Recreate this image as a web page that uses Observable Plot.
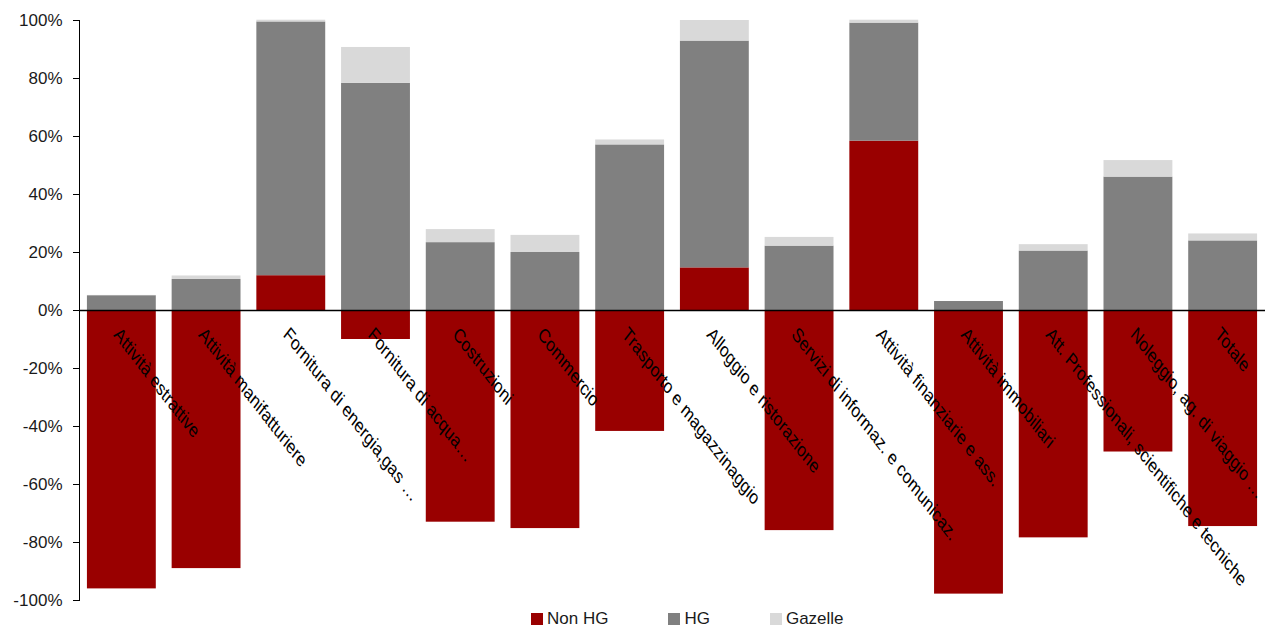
<!DOCTYPE html>
<html>
<head>
<meta charset="utf-8">
<script src="https://cdn.jsdelivr.net/npm/d3@7"></script>
<script src="https://cdn.jsdelivr.net/npm/@observablehq/plot@0.6"></script>
<style>
  html, body { margin: 0; padding: 0; background: #fff; }
  body { width: 1266px; height: 634px; overflow: hidden; font-family: "Liberation Sans", Arial, sans-serif; }
  #chart svg { display: block; }
  #legend { display: flex; align-items: center; gap: 60px; margin-left: 531px; height: 14px; font-size: 17px; color: #1a1a1a; }
  #legend .item { display: flex; align-items: center; gap: 4px; }
  #legend .sw { width: 12px; height: 12px; display: inline-block; }
</style>
</head>
<body>
<div id="chart"></div>
<div id="legend"></div>
<script>
// Sectors (x axis categories)
const categories = [
  "Attività estrattive",
  "Attività manifatturiere",
  "Fornitura di energia,gas …",
  "Fornitura di acqua…",
  "Costruzioni",
  "Commercio",
  "Trasporto e magazzinaggio",
  "Alloggio e ristorazione",
  "Servizi di informaz. e comunicaz.",
  "Attività finanziarie e ass.",
  "Attività immobiliari",
  "Att. Professionali, scientifiche e tecniche",
  "Noleggio, ag. di viaggio …",
  "Totale"
];

// Series values, in percent
const nonHG   = [-96, -89, 12, -10, -73, -75.2, -41.7, 14.7, -75.9, 58.4, -97.8, -78.4, -48.8, -74.5];
const hg      = [5.1, 10.7, 87.5, 78.3, 23.4, 20, 57.1, 78.2, 22.2, 40.7, 3.1, 20.5, 46, 24];
const gazelle = [0.1, 1.2, 0.6, 12.4, 4.5, 5.9, 1.7, 7.1, 3.0, 1.0, 0, 2.2, 5.7, 2.4];

const seriesNames = ["Non HG", "HG", "Gazelle"];
const seriesColors = ["#990000", "#808080", "#d9d9d9"];
const yTicks = [-100, -80, -60, -40, -20, 0, 20, 40, 60, 80, 100];

const seriesValues = [nonHG, hg, gazelle];
const rows = [];
seriesNames.forEach((s, si) => {
  categories.forEach((c, ci) => rows.push({category: c, series: s, value: seriesValues[si][ci]}));
});

const chart = Plot.plot({
  width: 1266,
  height: 612,
  marginLeft: 79,
  marginRight: 1,
  marginTop: 20,
  marginBottom: 12,
  style: {fontFamily: "'Liberation Sans', Arial, sans-serif", background: "#fff"},
  x: {domain: categories, paddingInner: 0.187, paddingOuter: 0.0935, round: false, axis: null},
  y: {domain: [-100, 100], label: null},
  color: {domain: seriesNames, range: seriesColors},
  marks: [
    Plot.barY(rows, {x: "category", y: "value", fill: "series", order: seriesNames}),
    Plot.ruleY([0], {stroke: "#000", strokeWidth: 1.4}),
    Plot.frame({anchor: "left", stroke: "#000"}),
    Plot.axisY({
      ticks: yTicks,
      tickSize: 6,
      tickPadding: 11,
      tickFormat: d => `${d}%`,
      label: null,
      fontSize: 17,
      fill: "#1a1a1a",
      stroke: "#000"
    }),
    Plot.text(categories, {
      x: d => d,
      y: () => 0,
      text: d => d,
      rotate: 45,
      textAnchor: "start",
      lineAnchor: "top",
      dx: -1,
      dy: 15,
      fontSize: 15.5,
      fill: "#000"
    })
  ]
});

// Category labels: slanted, slightly elongated vertically
d3.select(chart).selectAll("g[aria-label=text] text").each(function () {
  const t = this.getAttribute("transform") || "";
  this.setAttribute("transform", t.replace(/rotate\(45\)/, "scale(1,1.29) rotate(45)"));
});

document.getElementById("chart").appendChild(chart);

// Legend
const legend = d3.select("#legend");
seriesNames.forEach((s, i) => {
  const item = legend.append("div").attr("class", "item");
  item.append("span").attr("class", "sw").style("background", seriesColors[i]);
  item.append("span").text(s);
});
</script>
</body>
</html>
